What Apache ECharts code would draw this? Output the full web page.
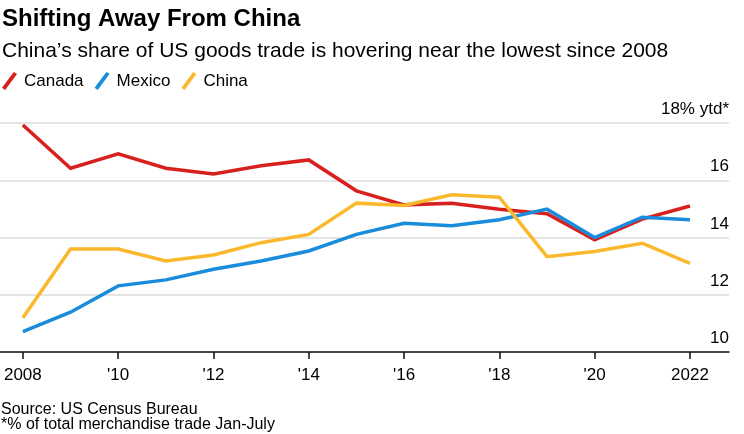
<!DOCTYPE html>
<html><head><meta charset="utf-8">
<script src="https://cdn.jsdelivr.net/npm/echarts@6/dist/echarts.min.js"></script>
<style>html,body{margin:0;padding:0;background:#fff}#c{width:744px;height:434px}</style>
</head><body><div id="c"></div>
<script>
const years = [2008,2009,2010,2011,2012,2013,2014,2015,2016,2017,2018,2019,2020,2021,2022];
const canada = [17.93,16.42,16.92,16.42,16.22,16.51,16.71,15.63,15.14,15.2,14.99,14.83,13.92,14.64,15.1];
const mexico = [10.71,11.39,12.31,12.52,12.89,13.18,13.53,14.11,14.5,14.41,14.62,14.99,14.0,14.71,14.62];
const china  = [11.2,13.6,13.6,13.18,13.39,13.82,14.11,15.2,15.12,15.49,15.41,13.33,13.51,13.8,13.1];
const xTicks = [2008,2010,2012,2014,2016,2018,2020,2022];
const xTickLabels = ['2008',"'10","'12","'14","'16","'18","'20",'2022'];
const yTicks = [10,12,14,16,18];

const FONT = '"Liberation Sans",Arial,sans-serif';
const chart = echarts.init(document.getElementById('c'), null, {renderer:'canvas'});
const mk = (name, data, color) => ({
  name, type:'line', data: years.map((y,i)=>[y,data[i]]), showSymbol:false, symbol:'none',
  lineStyle:{color, width:3.5, join:'miter'}, itemStyle:{color}, animation:false
});
chart.setOption({
  animation:false,
  textStyle:{fontFamily:FONT},
  title:[
    {text:'Shifting Away From China', left:2, top:7, padding:0, textStyle:{fontFamily:FONT, fontWeight:'bold', fontSize:24, color:'#000'}},
    {text:'China\u2019s share of US goods trade is hovering near the lowest since 2008', left:2, top:41, padding:0, textStyle:{fontFamily:FONT, fontWeight:'normal', fontSize:21, color:'#000'}},
    {text:'Source: US Census Bureau', left:1, top:402, padding:0, textStyle:{fontFamily:FONT, fontWeight:'normal', fontSize:16, color:'#000'}},
    {text:'*% of total merchandise trade Jan-July', left:1, top:417, padding:0, textStyle:{fontFamily:FONT, fontWeight:'normal', fontSize:16, color:'#000'}}
  ],
  legend:{
    left:2, top:72, padding:0, itemWidth:15, itemHeight:19, itemGap:11,
    icon:'path://M0,12 L9,0 L11.4,1.6 L2.4,13.6 Z',
    textStyle:{fontFamily:FONT, fontSize:17, color:'#000', padding:[0,0,0,2]},
    data:['Canada','Mexico','China']
  },
  grid:{left:0, right:15, top:123, bottom:82, containLabel:false},
  xAxis:{
    type:'value', min:2007.52, max:2022.82,
    axisLine:{show:true, lineStyle:{color:'#111', width:1.5}},
    axisTick:{show:true, customValues:xTicks, length:7, lineStyle:{color:'#111', width:1.5}},
    axisLabel:{customValues:xTicks, margin:15, fontSize:17, color:'#000', fontFamily:FONT,
      formatter:v=>xTickLabels[xTicks.indexOf(Math.round(v))]},
    splitLine:{show:false}
  },
  yAxis:{
    type:'value', min:10, max:18, interval:2, position:'right',
    axisLine:{show:false}, axisTick:{show:false},
    splitLine:{show:true, lineStyle:{color:'#dcdcdc', width:1.5}},
    axisLabel:{inside:true, margin:0, fontSize:17, color:'#000', fontFamily:FONT, verticalAlign:'bottom', padding:[0,0,5,0],
      formatter:v=>v===18?'18% ytd*':String(v)}
  },
  series:[
    mk('Canada', canada, '#d8211f'),
    mk('Mexico', mexico, '#1a8cdc'),
    mk('China', china, '#fbb82c')
  ]
});
</script></body></html>
